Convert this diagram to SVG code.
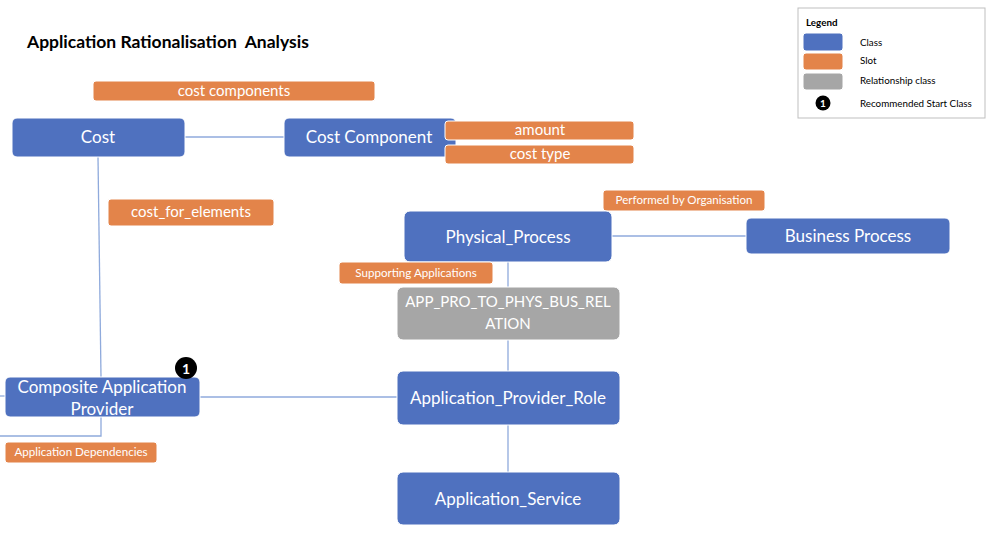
<svg xmlns="http://www.w3.org/2000/svg" width="992" height="556" viewBox="0 0 992 556">
<style>
text{font-family:Lato,"Open Sans","Liberation Sans",sans-serif}
.cls{fill:#4F71BF;stroke:#ffffff;stroke-width:1}
.slot{fill:#E3844A;stroke:#ffffff;stroke-width:1}
.rel{fill:#A6A6A6;stroke:#ffffff;stroke-width:1}
.t{fill:#ffffff;font-size:17px;text-anchor:middle}
.ts{fill:#ffffff;font-size:15px;text-anchor:middle}
.tss{fill:#ffffff;font-size:11.6px;text-anchor:middle}
.lg{fill:#000000;font-size:9.8px}
.conn{fill:none;stroke:#8FAADC;stroke-width:1.3}
</style>
<rect width="992" height="556" fill="#ffffff"/>
<text x="27" y="48" font-size="17.5" font-weight="bold" fill="#000000">Application Rationalisation&#160; Analysis</text>

<g id="connectors">
<line class="conn" x1="185" y1="137" x2="284" y2="137"/>
<line class="conn" x1="98" y1="157" x2="101" y2="377"/>
<polyline class="conn" points="101,417 101,436 0,436"/>
<line class="conn" x1="0" y1="396" x2="5" y2="396"/>
<line class="conn" x1="200" y1="397" x2="397" y2="397"/>
<line class="conn" x1="612" y1="236" x2="746" y2="236"/>
<line class="conn" x1="508" y1="262" x2="508" y2="287"/>
<line class="conn" x1="508" y1="340" x2="508" y2="371"/>
<line class="conn" x1="508" y1="425" x2="508" y2="472"/>
</g>

<g id="slot-cost-components"><rect class="slot" x="93" y="81" width="282" height="20" rx="3"/><text class="ts" x="234" y="96">cost components</text></g>
<g id="node-cost"><rect class="cls" x="12" y="118" width="173" height="39" rx="5"/><text class="t" x="98" y="143">Cost</text></g>
<g id="node-cost-component"><rect class="cls" x="284" y="118" width="172" height="39" rx="5"/><text class="t" x="369" y="143">Cost Component</text></g>
<g id="slot-amount"><rect class="slot" x="445" y="121" width="189" height="19" rx="3"/><text class="ts" x="540" y="135">amount</text></g>
<g id="slot-cost-type"><rect class="slot" x="445" y="145" width="189" height="19" rx="3"/><text class="ts" x="540" y="159">cost type</text></g>
<g id="slot-cost-for-elements"><rect class="slot" x="108" y="199" width="166" height="27" rx="3"/><text class="ts" x="191" y="217">cost_for_elements</text></g>

<g id="slot-performed-by"><rect class="slot" x="603" y="190" width="162" height="21" rx="3"/><text class="tss" x="684" y="204">Performed by Organisation</text></g>
<g id="node-physical-process"><rect class="cls" x="404" y="211" width="208" height="51" rx="6"/><text class="t" x="508" y="243">Physical_Process</text></g>
<g id="node-business-process"><rect class="cls" x="746" y="218" width="204" height="36" rx="5"/><text class="t" x="848" y="242">Business Process</text></g>
<g id="slot-supporting-apps"><rect class="slot" x="339" y="262" width="154" height="22" rx="3"/><text class="tss" x="416" y="277">Supporting Applications</text></g>
<g id="node-app-pro-to-phys"><rect class="rel" x="397" y="287" width="223" height="53" rx="6"/><text class="ts" x="508" y="307">APP_PRO_TO_PHYS_BUS_REL</text><text class="ts" x="508" y="329">ATION</text></g>
<g id="node-app-provider-role"><rect class="cls" x="397" y="371" width="223" height="54" rx="6"/><text class="t" x="508" y="404">Application_Provider_Role</text></g>
<g id="node-app-service"><rect class="cls" x="397" y="472" width="223" height="53" rx="6"/><text class="t" x="508" y="505">Application_Service</text></g>

<g id="node-composite"><rect class="cls" x="5" y="377" width="195" height="40" rx="5"/><text class="t" x="102" y="393">Composite Application</text><text class="t" x="102" y="415">Provider</text></g>
<g id="badge-start"><circle cx="186" cy="368" r="11" fill="#000000"/><text x="186" y="373.5" font-size="14" font-weight="bold" fill="#ffffff" text-anchor="middle">1</text></g>
<g id="slot-app-deps"><rect class="slot" x="5" y="442" width="152" height="21" rx="3"/><text class="tss" x="81" y="456">Application Dependencies</text></g>

<g id="legend">
<rect x="798" y="8" width="187" height="110" fill="#ffffff" stroke="#BFBFBF" stroke-width="1"/>
<text class="lg" x="806" y="26" font-weight="bold">Legend</text>
<rect class="cls" x="803" y="33" width="40" height="18" rx="3"/>
<rect class="slot" x="803" y="53" width="40" height="17" rx="3"/>
<rect class="rel" x="803" y="73" width="40" height="17" rx="3"/>
<circle cx="823" cy="103" r="7.5" fill="#000000"/>
<text x="823" y="106.5" font-size="10" font-weight="bold" fill="#ffffff" text-anchor="middle">1</text>
<text class="lg" x="860" y="46">Class</text>
<text class="lg" x="860" y="64">Slot</text>
<text class="lg" x="860" y="84">Relationship class</text>
<text class="lg" x="860" y="107">Recommended Start Class</text>
</g>
</svg>
